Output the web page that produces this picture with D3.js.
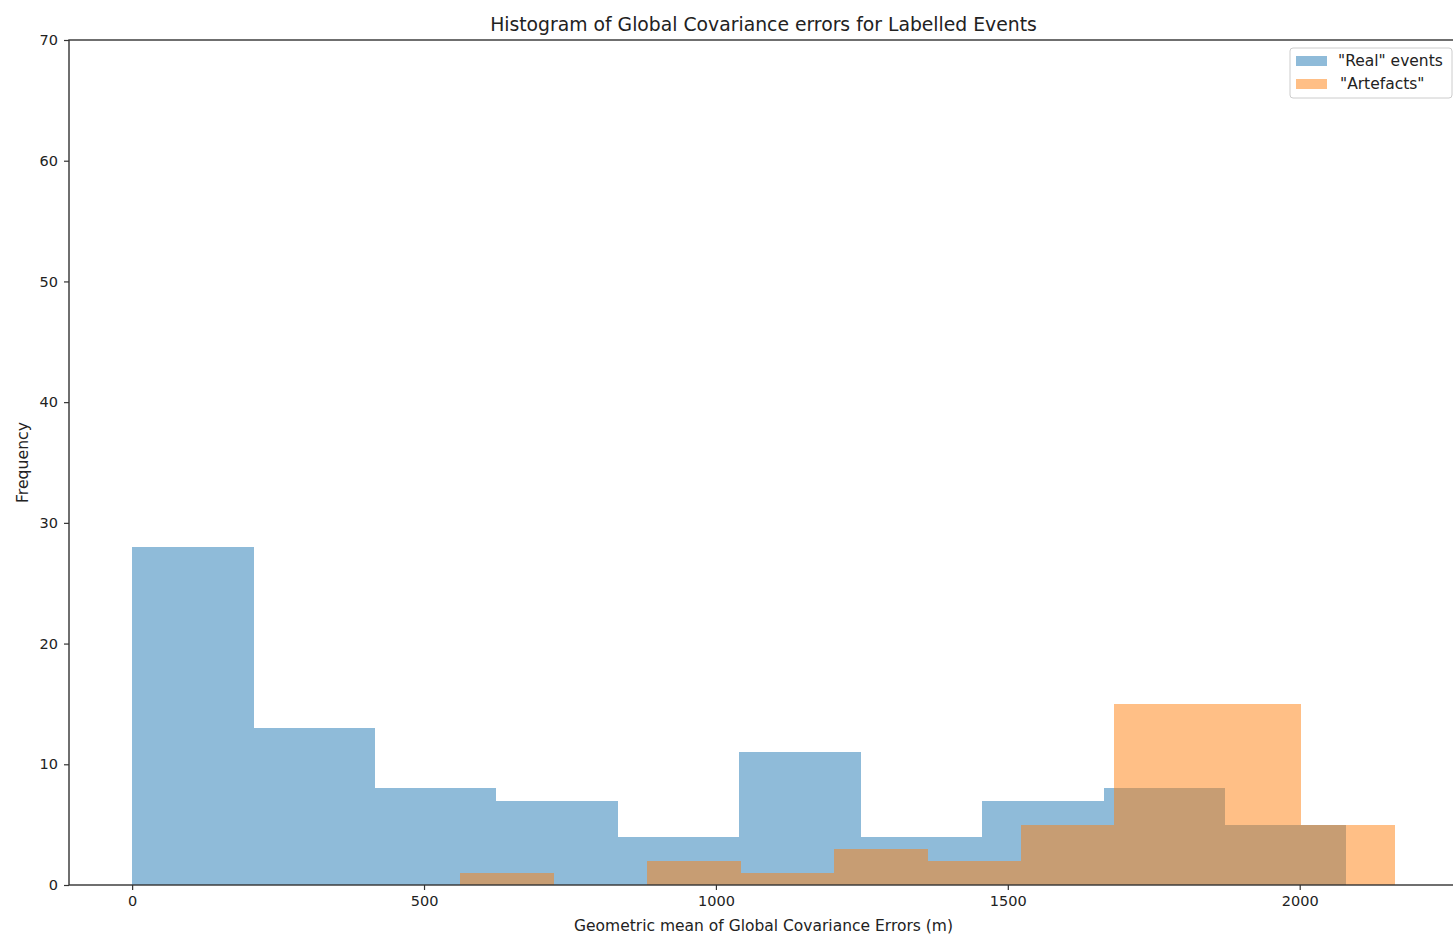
<!DOCTYPE html>
<html>
<head>
<meta charset="utf-8">
<script src="https://cdn.jsdelivr.net/npm/d3@7"></script>
<style>
  html, body { margin: 0; padding: 0; background: #fff; }
  svg { display: block; font-family: "DejaVu Sans", sans-serif; }
</style>
</head>
<body>
<svg id="chart" width="1453" height="935"></svg>
<script>
// Histogram bin counts for each group
const realRange = [0, 2080];
const realCounts = [28, 13, 8, 7, 4, 11, 4, 7, 8, 5];
const artefactRange = [562, 2163];
const artefactCounts = [1, 0, 2, 1, 3, 2, 5, 15, 15, 5];
const xTicks = [0, 500, 1000, 1500, 2000];
const yTicks = [0, 10, 20, 30, 40, 50, 60, 70];
const seriesNames = ['"Real" events', '"Artefacts"'];
const seriesColors = ["#1f77b4", "#ff7f0e"];

const svg = d3.select("#chart");
const plotLeft = 69, plotTop = 40, plotBottom = 885, plotRight = 1458;

const lo = Math.min(realRange[0], artefactRange[0]);
const hi = Math.max(realRange[1], artefactRange[1]);
const pad = (hi - lo) * 0.05;
const x = d3.scaleLinear().domain([lo - pad, hi + pad]).range([plotLeft, plotRight]);
const y = d3.scaleLinear().domain([0, 70]).range([plotBottom, plotTop]);

function bins(range, counts) {
  const w = (range[1] - range[0]) / counts.length;
  return counts.map((c, i) => ({ x0: range[0] + i * w, x1: range[0] + (i + 1) * w, c }));
}

const groups = [bins(realRange, realCounts), bins(artefactRange, artefactCounts)];
groups.forEach((data, gi) => {
  svg.append("g").attr("shape-rendering", "crispEdges")
    .selectAll("rect").data(data.filter(d => d.c > 0)).join("rect")
    .attr("x", d => Math.round(x(d.x0)))
    .attr("width", d => Math.round(x(d.x1)) - Math.round(x(d.x0)))
    .attr("y", d => y(d.c))
    .attr("height", d => y(0) - y(d.c))
    .attr("fill", seriesColors[gi])
    .attr("fill-opacity", 0.5);
});

// Axes
const xAxis = d3.axisBottom(x).tickValues(xTicks).tickSize(5).tickPadding(6).tickFormat(d3.format("d"));
const yAxis = d3.axisLeft(y).tickValues(yTicks).tickSize(5).tickPadding(6);

const gx = svg.append("g").attr("transform", `translate(0,${plotBottom})`).call(xAxis);
const gy = svg.append("g").attr("transform", `translate(${plotLeft},0)`).call(yAxis);
[gx, gy].forEach(g => {
  g.select(".domain").remove();
  g.selectAll("line").attr("stroke", "#333").attr("stroke-width", 1.2);
  g.selectAll("text").attr("font-size", 14.5).attr("fill", "#222").attr("font-family", "DejaVu Sans, sans-serif");
});

// Frame
svg.append("rect")
  .attr("x", plotLeft).attr("y", plotTop)
  .attr("width", plotRight - plotLeft).attr("height", plotBottom - plotTop)
  .attr("fill", "none").attr("stroke", "#333").attr("stroke-width", 1.4);

// Title and axis labels
svg.append("text").attr("x", (plotLeft + plotRight) / 2).attr("y", 31)
  .attr("text-anchor", "middle").attr("font-size", 18.8).attr("fill", "#222")
  .text("Histogram of Global Covariance errors for Labelled Events");
svg.append("text").attr("x", (plotLeft + plotRight) / 2).attr("y", 931)
  .attr("text-anchor", "middle").attr("font-size", 15.5).attr("fill", "#222")
  .text("Geometric mean of Global Covariance Errors (m)");
svg.append("text").attr("transform", `translate(28,${(plotTop + plotBottom) / 2}) rotate(-90)`)
  .attr("text-anchor", "middle").attr("font-size", 15.7).attr("fill", "#222")
  .text("Frequency");

// Legend
const lg = svg.append("g").attr("transform", "translate(1290,48)");
lg.append("rect").attr("width", 162).attr("height", 50).attr("rx", 3)
  .attr("fill", "#fff").attr("fill-opacity", 0.8).attr("stroke", "#ccc");
seriesNames.forEach((name, i) => {
  lg.append("rect").attr("x", 6).attr("y", 8 + i * 23).attr("width", 31).attr("height", 10)
    .attr("fill", seriesColors[i]).attr("fill-opacity", 0.5);
  lg.append("text").attr("x", 48 + (i ? 2 : 0)).attr("y", 18 + i * 23)
    .attr("font-size", 15.5).attr("fill", "#222").text(name);
});
</script>
</body>
</html>
